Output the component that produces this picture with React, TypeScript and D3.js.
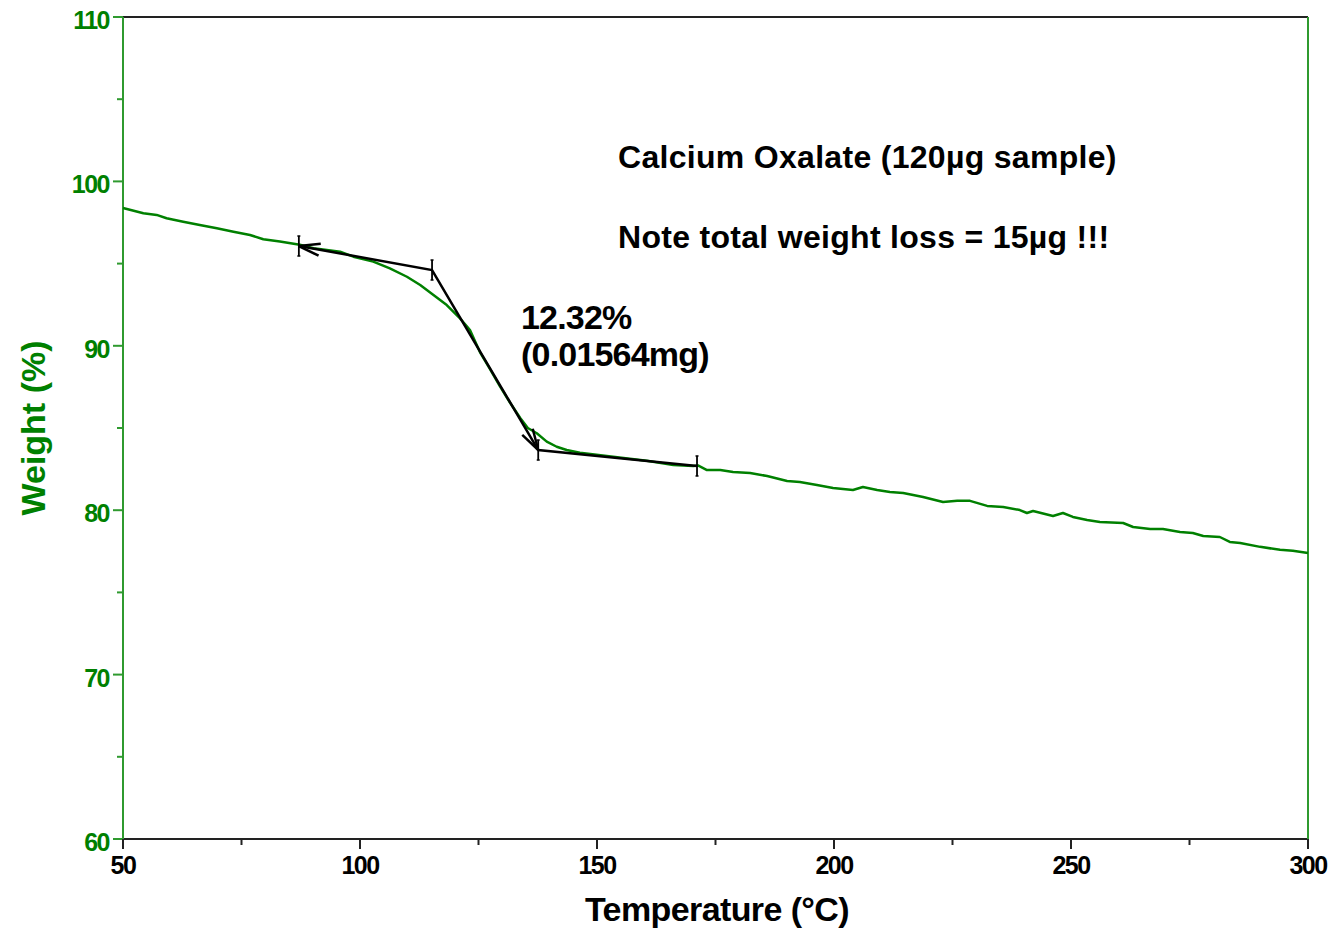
import React, { useEffect, useRef } from 'react';
import * as d3 from 'd3';

// TGA trace (temperature °C, weight %)
const temps = [
  50.0, 54.3, 57.1, 59.2, 62.7, 66.2, 69.8, 73.3, 76.8, 79.6, 83.1, 87.3, 90.2, 95.8, 98.6,
  102.8, 106.3, 109.9, 112.7, 115.5, 118.3, 121.1, 123.2, 125.3, 127.4, 129.5, 131.7, 133.8,
  135.4, 137.3, 139.4, 141.5, 143.6, 146.4, 153.4, 160.5, 166.1, 170.3, 171.3, 173.2, 176.0,
  178.7, 182.3, 185.9, 190.1, 192.8, 196.4, 199.8, 204.0, 206.1, 209.1, 211.8, 214.6, 218.8,
  223.0, 226.0, 228.7, 232.3, 235.7, 239.2, 240.7, 242.0, 246.2, 248.3, 250.4, 253.4, 256.1,
  261.0, 263.1, 266.7, 269.4, 273.0, 275.7, 277.9, 281.4, 283.5, 285.7, 289.9, 294.1, 296.8, 300.0,
];
const weights = [
  98.38, 98.06, 97.96, 97.76, 97.55, 97.35, 97.15, 96.94, 96.74, 96.48, 96.35, 96.15, 95.93, 95.72, 95.42,
  95.12, 94.71, 94.2, 93.7, 93.09, 92.48, 91.67, 90.96, 89.62, 88.59, 87.55, 86.52, 85.61,
  85.0, 84.68, 84.17, 83.86, 83.66, 83.5, 83.25, 83.01, 82.75, 82.69, 82.72, 82.44, 82.44,
  82.32, 82.26, 82.08, 81.78, 81.72, 81.53, 81.35, 81.23, 81.41, 81.23, 81.11, 81.05, 80.8,
  80.5, 80.57, 80.57, 80.26, 80.2, 80.01, 79.83, 79.95, 79.65, 79.83, 79.59, 79.4, 79.28,
  79.22, 78.98, 78.86, 78.86, 78.68, 78.61, 78.43, 78.37, 78.07, 78.01, 77.77, 77.59, 77.53, 77.4,
];

// step analysis construction points
const stepT = [87.1, 115.2, 137.6, 171.1];
const stepW = [96.07, 94.61, 83.66, 82.69];

const xTicks = [50, 100, 150, 200, 250, 300];
const xMinor = [75, 125, 175, 225, 275];
const yTicks = [60, 70, 80, 90, 100, 110];
const yMinor = [65, 75, 85, 95, 105];

const titleLines = ['Calcium Oxalate (120µg sample)', 'Note total weight loss = 15µg !!!'];
const stepLabel = ['12.32%', '(0.01564mg)'];

const GREEN = '#008000';
const FONT = '"Liberation Sans", Arial, sans-serif';

const App = () => {
  const ref = useRef<SVGSVGElement>(null);

  useEffect(() => {
    const width = 1332;
    const height = 930;
    const margin = { top: 17, right: 24, bottom: 91, left: 123 };

    const svg = d3.select(ref.current);
    svg.selectAll('*').remove();
    svg.attr('width', width).attr('height', height);

    const x = d3.scaleLinear().domain([50, 300]).range([margin.left, width - margin.right]);
    const y = d3.scaleLinear().domain([60, 110]).range([height - margin.bottom, margin.top]);
    const x0 = x(50), x1 = x(300), y0 = y(60), y1 = y(110);

    // frame: top/bottom black, left/right green
    svg.append('line').attr('x1', x0).attr('x2', x1).attr('y1', y1).attr('y2', y1)
      .attr('stroke', '#222').attr('stroke-width', 2);
    svg.append('line').attr('x1', x0).attr('x2', x1).attr('y1', y0).attr('y2', y0)
      .attr('stroke', '#222').attr('stroke-width', 2);
    svg.append('line').attr('x1', x1).attr('x2', x1).attr('y1', y1).attr('y2', y0)
      .attr('stroke', '#2f9a2f').attr('stroke-width', 2);

    // y axis (green)
    const yAxis = svg.append('g');
    yAxis.append('line').attr('x1', x0).attr('x2', x0).attr('y1', y1).attr('y2', y0)
      .attr('stroke', '#2f9a2f').attr('stroke-width', 2);
    yAxis.selectAll('.maj').data(yTicks).join('line')
      .attr('x1', x0 - 10).attr('x2', x0).attr('y1', d => y(d)).attr('y2', d => y(d))
      .attr('stroke', '#2f9a2f').attr('stroke-width', 2);
    yAxis.selectAll('.min').data(yMinor).join('line')
      .attr('class', 'min')
      .attr('x1', x0 - 6).attr('x2', x0).attr('y1', d => y(d)).attr('y2', d => y(d))
      .attr('stroke', '#2f9a2f').attr('stroke-width', 2);
    yAxis.selectAll('text').data(yTicks).join('text')
      .attr('x', x0 - 14).attr('y', d => y(d) + 12)
      .attr('text-anchor', 'end')
      .attr('fill', GREEN)
      .style('font', `bold 25px ${FONT}`)
      .style('letter-spacing', '-1.5px')
      .text(d => d);

    // x axis (black)
    const xAxis = svg.append('g');
    xAxis.selectAll('.maj').data(xTicks).join('line')
      .attr('x1', d => x(d)).attr('x2', d => x(d)).attr('y1', y0).attr('y2', y0 + 10)
      .attr('stroke', '#222').attr('stroke-width', 2);
    xAxis.selectAll('.min').data(xMinor).join('line')
      .attr('class', 'min')
      .attr('x1', d => x(d)).attr('x2', d => x(d)).attr('y1', y0).attr('y2', y0 + 6)
      .attr('stroke', '#222').attr('stroke-width', 2);
    xAxis.selectAll('text').data(xTicks).join('text')
      .attr('x', d => x(d)).attr('y', y0 + 35)
      .attr('text-anchor', 'middle')
      .attr('fill', '#000')
      .style('font', `bold 25px ${FONT}`)
      .style('letter-spacing', '-1.5px')
      .text(d => d);

    // axis titles
    svg.append('text')
      .attr('x', 717).attr('y', 921)
      .attr('text-anchor', 'middle')
      .style('font', `bold 34px ${FONT}`)
      .style('letter-spacing', '-0.6px')
      .text('Temperature (°C)');
    svg.append('text')
      .attr('transform', `translate(45,${(y0 + y1) / 2}) rotate(-90)`)
      .attr('text-anchor', 'middle')
      .attr('fill', GREEN)
      .style('font', `bold 34px ${FONT}`)
      .text('Weight (%)');

    // curve
    const pts = temps.map((t, i) => [t, weights[i]] as [number, number]);
    svg.append('path')
      .datum(pts)
      .attr('fill', 'none')
      .attr('stroke', GREEN)
      .attr('stroke-width', 2.5)
      .attr('stroke-linejoin', 'round')
      .attr('d', d3.line<[number, number]>().x(d => x(d[0])).y(d => y(d[1])));

    // step construction lines
    const sp = stepT.map((t, i) => [x(t), y(stepW[i])]);
    const g = svg.append('g').attr('stroke', '#000').attr('stroke-width', 2.5).attr('fill', 'none');
    g.append('path').attr('d', d3.line()(sp as [number, number][]));

    // arrowheads (open) at first and third point
    const arrow = (tip: number[], from: number[]) => {
      const a = Math.atan2(from[1] - tip[1], from[0] - tip[0]);
      const len = 22, spread = (16 * Math.PI) / 180;
      [a - spread, a + spread].forEach(b => {
        g.append('line')
          .attr('x1', tip[0]).attr('y1', tip[1])
          .attr('x2', tip[0] + len * Math.cos(b)).attr('y2', tip[1] + len * Math.sin(b));
      });
    };
    arrow(sp[0], sp[1]);
    arrow(sp[2], sp[1]);

    // vertical markers
    sp.forEach(p => {
      g.append('line').attr('x1', p[0]).attr('x2', p[0]).attr('y1', p[1] - 10).attr('y2', p[1] + 10)
        .attr('stroke-width', 1.8);
      [-10, 10].forEach(o => g.append('line')
        .attr('x1', p[0] - 1.5).attr('x2', p[0] + 1.5).attr('y1', p[1] + o).attr('y2', p[1] + o)
        .attr('stroke-width', 1.5));
    });

    // annotations
    svg.selectAll('.title').data(titleLines).join('text')
      .attr('x', 618).attr('y', (d, i) => (i === 0 ? 168 : 248))
      .style('font', `bold 32px ${FONT}`)
      .style('letter-spacing', '0.3px')
      .text(d => d);
    svg.selectAll('.step').data(stepLabel).join('text')
      .attr('x', 521).attr('y', (d, i) => 329 + i * 37)
      .style('font', `bold 34px ${FONT}`)
      .style('letter-spacing', '-0.8px')
      .text(d => d);
  }, []);

  return <svg ref={ref} style={{ position: 'absolute', left: 0, top: 0, background: '#fff' }}></svg>;
};

export default App;
